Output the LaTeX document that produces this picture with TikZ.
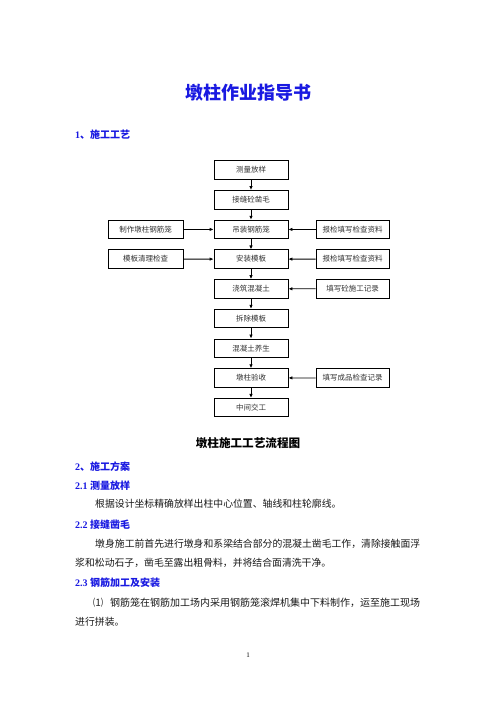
\documentclass[tikz,border=0pt]{standalone}
\usepackage{fontspec}
\setmainfont{Liberation Serif}
\newfontfamily\cjk{Noto Sans CJK SC}
\usetikzlibrary{arrows.meta}
\definecolor{headblue}{RGB}{25,25,225}
\tikzset{
  stepbox/.style={draw, line width=0.8pt, minimum width=74pt, minimum height=18.5pt,
    inner sep=0pt, font=\cjk\fontsize{7.5}{9}\selectfont, text=black!80},
  flow/.style={line width=0.8pt, -{Latex[length=4pt,width=3.5pt]}},
  body/.style={anchor=west, inner sep=0pt, text=black!90, font=\cjk\fontsize{9.85}{12}\selectfont},
  head/.style={anchor=west, inner sep=0pt, text=headblue, font=\bfseries\fontsize{10}{12}\selectfont},
}
\newcommand{\headtext}[2]{#1{\cjk\bfseries #2}}
\begin{document}
\begin{tikzpicture}[x=1pt,y=-1pt]
    \useasboundingbox[fill=white] (0,0) rectangle (496,702);

    % Title
    \node[text=headblue, font=\cjk\bfseries\fontsize{18}{20}\selectfont] (title) at (248,93) {墩柱作业指导书};
    \node[head] (h1) at (75,135) {\headtext{1}{、施工工艺}};

    % Main steps
    \foreach \i/\txt in {1/测量放样, 2/接缝砼凿毛, 3/吊装钢筋笼, 4/安装模板, 5/浇筑混凝土,
                         6/拆除模板, 7/混凝土养生, 8/墩柱验收, 9/中间交工}
        \node[stepbox] (s\i) at (251, {170+(\i-1)*29.7}) {\txt};
    \foreach \i [remember=\i as \lasti (initially 1)] in {2,...,9}
        \draw[flow] (s\lasti) -- (s\i);

    % Side steps
    \node[stepbox, minimum width=75pt] (l3) at (145.5,229.4) {制作墩柱钢筋笼};
    \node[stepbox, minimum width=75pt] (l4) at (145.5,259.1) {模板清理检查};
    \node[stepbox, minimum width=73pt] (r3) at (352.5,229.4) {报检填写检查资料};
    \node[stepbox, minimum width=73pt] (r4) at (352.5,259.1) {报检填写检查资料};
    \node[stepbox, minimum width=73pt] (r5) at (352.5,288.8) {填写砼施工记录};
    \node[stepbox, minimum width=73pt] (r8) at (352.5,377.9) {填写成品检查记录};
    \draw[flow] (l3) -- (s3);
    \draw[flow] (l4) -- (s4);
    \draw[flow] (r3) -- (s3);
    \draw[flow] (r4) -- (s4);
    \draw[flow] (r5) -- (s5);
    \draw[flow] (r8) -- (s8);

    % Caption
    \node[font=\cjk\bfseries\fontsize{11.6}{14}\selectfont] (cap) at (248,443) {墩柱施工工艺流程图};

    % Text
    \node[head] (h2) at (75,467) {\headtext{2}{、施工方案}};
    \node[head] (h21) at (75,486) {\headtext{2.1 }{测量放样}};
    \node[body] (t1) at (95,504) {根据设计坐标精确放样出柱中心位置、轴线和柱轮廓线。};
    \node[head] (h22) at (75,525) {\headtext{2.2 }{接缝凿毛}};
    \node[body] (t2) at (95,544) {墩身施工前首先进行墩身和系梁结合部分的混凝土凿毛工作，清除接触面浮};
    \node[body] (t3) at (75,563) {浆和松动石子，凿毛至露出粗骨料，并将结合面清洗干净。};
    \node[head] (h23) at (75,583) {\headtext{2.3 }{钢筋加工及安装}};
    \node[body, font=\cjk\fontsize{10}{12}\selectfont] (t4) at (93,603)
        {\makebox[17pt][l]{⑴}钢筋笼在钢筋加工场内采用钢筋笼滚焊机集中下料制作，运至施工现场};
    \node[body] (t5) at (75,622) {进行拼装。};

    % Page number
    \node[font=\fontsize{7}{8}\selectfont] (page) at (248,655) {1};
\end{tikzpicture}
\end{document}
